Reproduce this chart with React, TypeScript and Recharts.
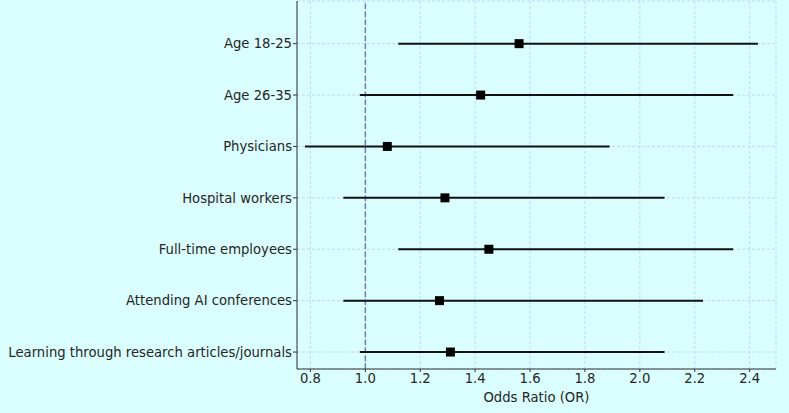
import {
  CartesianGrid,
  ErrorBar,
  ReferenceLine,
  Scatter,
  ScatterChart,
  XAxis,
  YAxis,
} from "recharts";

// rows listed top to bottom
const labels = [
  "Age 18-25",
  "Age 26-35",
  "Physicians",
  "Hospital workers",
  "Full-time employees",
  "Attending AI conferences",
  "Learning through research articles/journals",
];
const oddsRatio = [1.56, 1.42, 1.08, 1.29, 1.45, 1.27, 1.31];
const ciLow = [1.12, 0.98, 0.78, 0.92, 1.12, 0.92, 0.98];
const ciHigh = [2.43, 2.34, 1.89, 2.09, 2.34, 2.23, 2.09];
const xTicks = [0.8, 1.0, 1.2, 1.4, 1.6, 1.8, 2.0, 2.2, 2.4];

const W = 789;
const H = 413;

const tokens = {
  bg: "#dafdfd",
  text: "#262626",
  axis: "#333333",
  grid: "#bccdf3",
  refLine: "#6f81a8",
  mark: "#000000",
  font: "'DejaVu Sans', sans-serif",
  fontSize: 13.2,
};

const n = labels.length;
const rows = labels.map((label, i) => ({
  label,
  y: n - 1 - i,
  or: oddsRatio[i],
  err: [oddsRatio[i] - ciLow[i], ciHigh[i] - oddsRatio[i]],
}));
const yTicks = rows.map((r) => r.y);

const SquareMark = (props: any) => {
  const { cx, cy } = props;
  if (cx == null || cy == null) return null;
  return <rect x={cx - 4.5} y={cy - 4.5} width={9} height={9} fill={tokens.mark} />;
};

export default function App() {
  return (
    <div
      style={{
        position: "absolute",
        left: 0,
        top: 0,
        width: W,
        height: H,
        background: tokens.bg,
        fontFamily: tokens.font,
      }}
    >
      <ScatterChart
        width={W}
        height={H}
        margin={{ top: 1, right: 13, bottom: 0, left: 0 }}
      >
        <CartesianGrid stroke={tokens.grid} strokeDasharray="3 2" strokeWidth={0.8} />
        <XAxis
          type="number"
          dataKey="or"
          domain={[0.751, 2.496]}
          ticks={xTicks}
          allowDataOverflow
          tickFormatter={(v: number) => v.toFixed(1)}
          tick={{ fill: tokens.text, fontSize: tokens.fontSize, fontFamily: tokens.font }}
          tickSize={3}
          tickMargin={2}
          stroke={tokens.axis}
          height={44}
          label={{
            value: "Odds Ratio (OR)",
            position: "insideBottom",
            offset: 11,
            fill: tokens.text,
            fontSize: tokens.fontSize,
            fontFamily: tokens.font,
          }}
        />
        <YAxis
          type="number"
          dataKey="y"
          domain={[-0.33, 6.83]}
          ticks={yTicks}
          allowDataOverflow
          tickFormatter={(v: number) => labels[n - 1 - v] ?? ""}
          tick={{ fill: tokens.text, fontSize: tokens.fontSize, fontFamily: tokens.font }}
          tickSize={4}
          tickMargin={1}
          stroke={tokens.axis}
          width={297}
        />
        <ReferenceLine
          x={1}
          stroke={tokens.refLine}
          strokeDasharray="5.5 2.5"
          strokeWidth={1.5}
        />
        <Scatter data={rows} shape={SquareMark} isAnimationActive={false}>
          <ErrorBar
            dataKey="err"
            direction="x"
            width={0}
            stroke="#111"
            strokeWidth={2}
            isAnimationActive={false}
          />
        </Scatter>
      </ScatterChart>
    </div>
  );
}
